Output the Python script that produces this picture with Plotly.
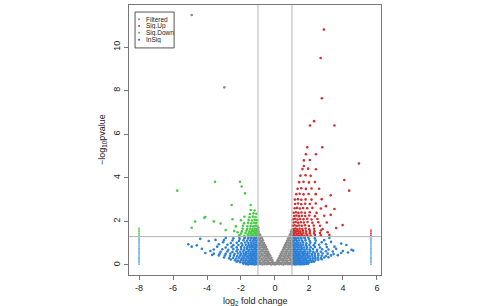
import plotly.graph_objects as go

# ---------------- data ----------------
fc_cut = [-1, 1]          # log2 fold-change cut-offs (vertical lines)
p_cut = 1.301             # -log10(0.05) (horizontal line)

x_ticks = [-8, -6, -4, -2, 0, 2, 4, 6]
x_tick_labels = ["-8", "-6", "-4", "-2", "0", "2", "4", "6"]
y_ticks = [0, 2, 4, 6, 8, 10]
y_tick_labels = ["0", "2", "4", "6", "8", "10"]

legend_labels = ["Filtered", "Sig.Up", "Sig.Down", "InSig"]

# Filtered (grey V around zero)
filtered_pts = [
    (-0.98, .03), (-0.86, .05), (-0.73, .02), (-0.61, .04), (-0.48, .03), (-0.36, .05), (-0.23, .02), (-0.11, .04),
    (0.01, .02), (0.12, .05), (0.25, .03), (0.37, .04), (0.5, .02), (0.62, .05), (0.75, .03), (0.87, .04), (0.99, .02),
    (-0.94, .12), (-0.81, .1), (-0.68, .13), (-0.55, .11), (-0.42, .12), (-0.3, .1), (-0.17, .13), (-0.07, .1),
    (0.07, .11), (0.18, .13), (0.31, .1), (0.44, .12), (0.57, .11), (0.7, .13), (0.83, .1), (0.95, .12),
    (-0.99, .22), (-0.87, .2), (-0.74, .23), (-0.61, .21), (-0.49, .22), (-0.37, .2), (-0.25, .23), (-0.15, .21),
    (0.15, .22), (0.25, .2), (0.37, .23), (0.5, .21), (0.62, .22), (0.75, .2), (0.88, .23), (0.98, .21),
    (-0.93, .32), (-0.8, .3), (-0.67, .33), (-0.54, .31), (-0.42, .32), (-0.31, .3), (-0.21, .33),
    (0.22, .31), (0.32, .33), (0.45, .3), (0.57, .32), (0.7, .31), (0.83, .33), (0.95, .3),
    (-0.98, .42), (-0.86, .4), (-0.73, .43), (-0.6, .41), (-0.48, .42), (-0.37, .4), (-0.28, .43),
    (0.28, .41), (0.38, .43), (0.5, .4), (0.63, .42), (0.76, .41), (0.89, .43), (0.99, .4),
    (-0.92, .52), (-0.79, .5), (-0.66, .53), (-0.54, .51), (-0.43, .52), (-0.34, .5),
    (0.34, .51), (0.44, .53), (0.56, .5), (0.68, .52), (0.81, .51), (0.94, .53),
    (-0.97, .62), (-0.85, .6), (-0.72, .63), (-0.6, .61), (-0.5, .62), (-0.4, .6),
    (0.4, .61), (0.5, .63), (0.62, .6), (0.74, .62), (0.87, .61), (0.97, .63),
    (-0.91, .72), (-0.79, .7), (-0.67, .73), (-0.56, .71), (-0.47, .72),
    (0.47, .71), (0.57, .73), (0.69, .7), (0.81, .72), (0.93, .71),
    (-0.98, .82), (-0.86, .8), (-0.74, .83), (-0.63, .81), (-0.53, .82),
    (0.53, .81), (0.63, .83), (0.75, .8), (0.87, .82), (0.98, .81),
    (-0.92, .92), (-0.8, .9), (-0.69, .93), (-0.59, .91), (0.59, .91), (0.69, .93), (0.8, .9), (0.92, .92),
    (-0.97, 1.02), (-0.86, 1.0), (-0.75, 1.03), (-0.65, 1.01), (0.65, 1.01), (0.76, 1.03), (0.87, 1.0), (0.97, 1.02),
    (-0.92, 1.12), (-0.81, 1.1), (-0.71, 1.13), (0.71, 1.11), (0.81, 1.13), (0.92, 1.1),
    (-0.98, 1.22), (-0.87, 1.2), (-0.77, 1.23), (0.77, 1.21), (0.87, 1.23), (0.98, 1.2),
    (-0.93, 1.32), (-0.83, 1.3), (0.83, 1.31), (0.93, 1.33),
    (-0.99, 1.42), (-0.89, 1.4), (0.89, 1.41), (0.99, 1.43),
    (-0.96, 1.52), (0.95, 1.52), (-0.99, 1.62), (0.99, 1.6), (-0.98, 1.72),
    (-4.9, 11.47), (-2.98, 8.15),
]

# Sig.Up (red)
up_pts = [
    (1.03, 1.35), (1.12, 1.37), (1.22, 1.34), (1.33, 1.36), (1.45, 1.35), (1.58, 1.38), (1.73, 1.34), (1.9, 1.36), (2.1, 1.35), (2.35, 1.37), (2.7, 1.36), (3.2, 1.38),
    (1.06, 1.45), (1.16, 1.47), (1.27, 1.44), (1.39, 1.46), (1.52, 1.45), (1.67, 1.47), (1.84, 1.44), (2.05, 1.46), (2.3, 1.45), (2.65, 1.47), (3.1, 1.5),
    (1.02, 1.55), (1.12, 1.57), (1.23, 1.54), (1.35, 1.56), (1.49, 1.55), (1.65, 1.57), (1.83, 1.54), (2.05, 1.56), (2.32, 1.55), (2.7, 1.58),
    (1.08, 1.65), (1.19, 1.67), (1.31, 1.64), (1.45, 1.66), (1.61, 1.65), (1.8, 1.67), (2.02, 1.64), (2.3, 1.66), (2.8, 1.65), (3.6, 1.7),
    (1.05, 1.8), (1.16, 1.82), (1.28, 1.79), (1.42, 1.81), (1.58, 1.8), (1.77, 1.82), (2.0, 1.79), (2.28, 1.81), (2.65, 1.8),
    (1.1, 1.95), (1.22, 1.97), (1.36, 1.94), (1.52, 1.96), (1.7, 1.95), (1.92, 1.97), (2.2, 1.94), (2.55, 1.96), (3.05, 1.95),
    (1.07, 2.1), (1.19, 2.12), (1.33, 2.09), (1.49, 2.11), (1.68, 2.1), (1.9, 2.12), (2.15, 2.09), (2.5, 2.11),
    (1.13, 2.25), (1.26, 2.27), (1.41, 2.24), (1.58, 2.26), (1.78, 2.25), (2.02, 2.27), (2.35, 2.24), (2.9, 2.26),
    (1.1, 2.4), (1.23, 2.42), (1.38, 2.39), (1.56, 2.41), (1.77, 2.4), (2.05, 2.42), (2.45, 2.39),
    (1.16, 2.6), (1.3, 2.62), (1.47, 2.59), (1.66, 2.61), (1.9, 2.6), (2.2, 2.62), (2.7, 2.59),
    (1.18, 2.8), (1.36, 2.82), (1.55, 2.79), (1.78, 2.81), (2.05, 2.8), (2.4, 2.82),
    (1.17, 3.0), (1.35, 3.02), (1.55, 2.99), (1.8, 3.01), (2.15, 3.0), (2.75, 3.02),
    (1.25, 3.25), (1.45, 3.27), (1.68, 3.24), (1.98, 3.26), (2.4, 3.25),
    (1.33, 3.5), (1.55, 3.52), (1.82, 3.49), (2.15, 3.51), (2.6, 3.5),
    (1.42, 3.8), (1.68, 3.82), (2.0, 3.79), (2.35, 3.81),
    (1.5, 4.1), (1.8, 4.12), (2.1, 4.09),
    (1.62, 4.4), (1.95, 4.42), (1.7, 4.8), (2.05, 4.82),
    (1.82, 5.08), (2.41, 5.08), (1.9, 5.4), (2.78, 5.4), (2.06, 6.4), (2.3, 6.6), (3.5, 6.4),
    (2.76, 7.65), (2.69, 9.5), (2.88, 10.8), (4.94, 4.66), (4.08, 3.9), (4.37, 3.41), (3.28, 3.2),
    (3.5, 2.57), (3.98, 1.83), (3.28, 2.3), (3.0, 2.7), (1.7, 4.54), (2.41, 4.39),
]

# Sig.Down (green)
down_pts = [
    (-1.03, 1.35), (-1.12, 1.37), (-1.22, 1.34), (-1.33, 1.36), (-1.45, 1.35), (-1.6, 1.37), (-1.8, 1.34), (-2.1, 1.36),
    (-1.06, 1.45), (-1.16, 1.47), (-1.27, 1.44), (-1.4, 1.46), (-1.55, 1.45), (-1.73, 1.47), (-2.0, 1.44),
    (-1.02, 1.55), (-1.11, 1.57), (-1.22, 1.54), (-1.35, 1.56), (-1.5, 1.55), (-1.68, 1.57), (-1.95, 1.54), (-2.4, 1.56),
    (-1.07, 1.65), (-1.18, 1.67), (-1.31, 1.64), (-1.46, 1.66), (-1.64, 1.65), (-1.9, 1.67),
    (-1.04, 1.78), (-1.15, 1.8), (-1.28, 1.77), (-1.44, 1.79), (-1.63, 1.78), (-1.88, 1.8), (-2.3, 1.77),
    (-1.1, 1.92), (-1.23, 1.94), (-1.39, 1.91), (-1.58, 1.93), (-1.82, 1.92),
    (-1.06, 2.05), (-1.19, 2.07), (-1.35, 2.04), (-1.55, 2.06), (-2.0, 2.05),
    (-1.14, 2.2), (-1.3, 2.22), (-1.5, 2.19), (-1.8, 2.21),
    (-1.1, 2.35), (-1.27, 2.37), (-1.48, 2.34), (-1.2, 2.5), (-1.42, 2.52),
    (-4.9, 1.71), (-4.16, 2.17), (-3.6, 2.0), (-4.7, 1.99), (-4.1, 2.2), (-1.43, 2.75), (-2.55, 2.75),
    (-1.76, 3.29), (-1.96, 3.6), (-2.06, 3.82), (-3.53, 3.82), (-5.75, 3.41),
    (-2.9, 1.6), (-3.2, 1.9), (-2.5, 2.1), (-2.2, 1.5),
]

# InSig (blue)
insig_pts = [
    # right cloud
    (1.02, .03), (1.1, .05), (1.18, .02), (1.26, .04), (1.34, .03), (1.42, .05), (1.5, .02), (1.6, .04), (1.7, .03), (1.82, .05), (1.95, .06),
    (1.05, .11), (1.13, .13), (1.22, .1), (1.3, .12), (1.38, .11), (1.47, .13), (1.56, .1), (1.66, .12), (1.76, .11), (1.88, .13), (2.0, .12), (2.15, .14), (2.3, .15),
    (1.03, .21), (1.11, .23), (1.2, .2), (1.28, .22), (1.37, .21), (1.45, .23), (1.54, .2), (1.63, .22), (1.73, .21), (1.84, .23), (1.96, .2), (2.08, .22), (2.22, .21), (2.38, .23), (2.55, .24), (2.75, .26),
    (1.06, .31), (1.15, .33), (1.24, .3), (1.33, .32), (1.42, .31), (1.52, .33), (1.62, .3), (1.72, .32), (1.83, .31), (1.95, .33), (2.08, .3), (2.22, .32), (2.37, .31), (2.52, .33), (2.7, .32), (2.9, .34), (3.15, .35),
    (1.02, .41), (1.1, .43), (1.19, .4), (1.28, .42), (1.37, .41), (1.47, .43), (1.57, .4), (1.68, .42), (1.8, .41), (1.92, .43), (2.05, .4), (2.2, .42), (2.36, .41), (2.55, .43), (2.75, .42), (3.0, .41), (3.3, .44), (3.7, .45),
    (1.05, .51), (1.14, .53), (1.23, .5), (1.32, .52), (1.42, .51), (1.53, .53), (1.64, .5), (1.76, .52), (1.89, .51), (2.03, .53), (2.18, .5), (2.35, .52), (2.55, .51), (2.8, .53), (3.1, .52), (3.45, .5), (3.9, .55), (4.3, .57),
    (1.03, .61), (1.12, .63), (1.21, .6), (1.31, .62), (1.41, .61), (1.52, .63), (1.64, .6), (1.77, .62), (1.92, .61), (2.08, .63), (2.26, .6), (2.46, .62), (2.7, .61), (3.0, .63), (3.4, .62), (4.0, .64), (4.6, .66),
    (1.06, .71), (1.15, .73), (1.25, .7), (1.35, .72), (1.46, .71), (1.58, .73), (1.72, .7), (1.87, .72), (2.04, .71), (2.24, .73), (2.48, .7), (2.78, .72), (3.15, .71), (3.6, .74), (4.5, .7),
    (1.02, .81), (1.11, .83), (1.21, .8), (1.32, .82), (1.44, .81), (1.57, .83), (1.72, .8), (1.89, .82), (2.1, .81), (2.35, .83), (2.65, .8), (3.05, .82), (3.5, .84), (4.2, .92),
    (1.05, .91), (1.15, .93), (1.26, .9), (1.38, .92), (1.51, .91), (1.66, .93), (1.83, .9), (2.03, .92), (2.28, .91), (2.6, .93), (3.0, .95), (3.9, .98),
    (1.03, 1.01), (1.13, 1.03), (1.24, 1.0), (1.36, 1.02), (1.5, 1.01), (1.66, 1.03), (1.85, 1.0), (2.08, 1.02), (2.36, 1.01), (2.75, 1.04), (3.3, 1.06),
    (1.06, 1.11), (1.17, 1.13), (1.29, 1.1), (1.43, 1.12), (1.6, 1.11), (1.8, 1.13), (2.05, 1.1), (2.4, 1.12), (2.9, 1.14),
    (1.02, 1.21), (1.12, 1.23), (1.24, 1.2), (1.38, 1.22), (1.55, 1.21), (1.76, 1.23), (2.0, 1.2), (2.35, 1.22), (3.2, 1.24),
    (1.08, 1.28), (1.2, 1.27), (1.34, 1.29), (1.5, 1.28), (1.7, 1.27), (1.95, 1.28),
    # left cloud
    (-1.02, .03), (-1.1, .05), (-1.19, .02), (-1.28, .04), (-1.37, .03), (-1.47, .05), (-1.58, .02), (-1.7, .04), (-1.85, .06),
    (-1.05, .11), (-1.14, .13), (-1.23, .1), (-1.32, .12), (-1.42, .11), (-1.52, .13), (-1.63, .1), (-1.75, .12), (-1.9, .11), (-2.05, .13), (-2.25, .15),
    (-1.03, .21), (-1.12, .23), (-1.21, .2), (-1.3, .22), (-1.4, .21), (-1.5, .23), (-1.61, .2), (-1.73, .22), (-1.86, .21), (-2.0, .23), (-2.16, .2), (-2.35, .22), (-2.6, .25),
    (-1.06, .31), (-1.15, .33), (-1.25, .3), (-1.35, .32), (-1.45, .31), (-1.56, .33), (-1.68, .3), (-1.81, .32), (-1.95, .31), (-2.1, .33), (-2.27, .3), (-2.46, .32), (-2.7, .31), (-3.0, .34),
    (-1.02, .41), (-1.11, .43), (-1.2, .4), (-1.3, .42), (-1.4, .41), (-1.51, .43), (-1.63, .4), (-1.76, .42), (-1.9, .41), (-2.05, .43), (-2.22, .4), (-2.42, .42), (-2.65, .41), (-2.95, .43), (-3.3, .44), (-3.7, .46),
    (-1.05, .51), (-1.14, .53), (-1.24, .5), (-1.34, .52), (-1.45, .51), (-1.57, .53), (-1.7, .5), (-1.84, .52), (-2.0, .51), (-2.18, .53), (-2.38, .5), (-2.62, .52), (-2.9, .51), (-3.25, .53), (-3.6, .52), (-4.1, .55),
    (-1.03, .61), (-1.12, .63), (-1.22, .6), (-1.33, .62), (-1.44, .61), (-1.57, .63), (-1.71, .6), (-1.87, .62), (-2.05, .61), (-2.26, .63), (-2.5, .6), (-2.8, .62), (-3.2, .61), (-3.8, .64),
    (-1.06, .71), (-1.16, .73), (-1.27, .7), (-1.38, .72), (-1.51, .71), (-1.65, .73), (-1.81, .7), (-1.99, .72), (-2.2, .71), (-2.45, .73), (-2.75, .7), (-3.1, .72), (-3.6, .71), (-4.3, .74),
    (-1.02, .81), (-1.12, .83), (-1.23, .8), (-1.35, .82), (-1.48, .81), (-1.63, .83), (-1.8, .8), (-2.0, .82), (-2.25, .81), (-2.55, .83), (-2.9, .8), (-3.4, .84),
    (-1.05, .91), (-1.15, .93), (-1.27, .9), (-1.4, .92), (-1.55, .91), (-1.72, .93), (-1.92, .9), (-2.15, .92), (-2.45, .91), (-2.8, .93), (-3.3, .95), (-4.6, .9),
    (-1.03, 1.01), (-1.14, 1.03), (-1.26, 1.0), (-1.4, 1.02), (-1.56, 1.01), (-1.75, 1.03), (-1.97, 1.0), (-2.25, 1.02), (-2.6, 1.01), (-3.05, 1.04),
    (-1.06, 1.11), (-1.18, 1.13), (-1.31, 1.1), (-1.46, 1.12), (-1.64, 1.11), (-1.86, 1.13), (-2.12, 1.1), (-2.5, 1.12), (-3.0, 1.14), (-3.9, 1.1),
    (-1.02, 1.21), (-1.13, 1.23), (-1.26, 1.2), (-1.41, 1.22), (-1.59, 1.21), (-1.8, 1.23), (-2.08, 1.2), (-2.45, 1.22), (-2.9, 1.24),
    (-1.08, 1.28), (-1.21, 1.27), (-1.36, 1.29), (-1.55, 1.28), (-1.78, 1.27), (-2.1, 1.28),
    (-5.1, .95), (-4.4, 1.2), (-3.5, 1.15), (-4.9, .84),
]

# clamped columns at the x extremes (infinite fold changes)
edge_insig_pts = [
    (-8.0, .03), (-8.0, .1), (-8.0, .17), (-8.0, .23), (-8.0, .3), (-8.0, .36), (-8.0, .42), (-8.0, .5), (-8.0, .56), (-8.0, .63),
    (-8.0, .7), (-8.0, .76), (-8.0, .83), (-8.0, .9), (-8.0, .97), (-8.0, 1.03), (-8.0, 1.1), (-8.0, 1.17), (-8.0, 1.24),
    (5.65, .03), (5.65, .1), (5.65, .17), (5.65, .23), (5.65, .3), (5.65, .36), (5.65, .42), (5.65, .5), (5.65, .56), (5.65, .63),
    (5.65, .7), (5.65, .76), (5.65, .83), (5.65, .9), (5.65, .97), (5.65, 1.03), (5.65, 1.1), (5.65, 1.17), (5.65, 1.24),
]
edge_up_pts = [(5.65, 1.36), (5.65, 1.44), (5.65, 1.52), (5.65, 1.6)]
edge_down_pts = [(-8.0, 1.36), (-8.0, 1.44), (-8.0, 1.52), (-8.0, 1.6), (-8.0, 1.68)]

# ---------------- styles ----------------
col_filtered = "#8a8a8a"
col_up = "#d03030"
col_down = "#44cc44"
col_insig = "#2a7fd6"
col_edge = "#6aaee6"
FONT = "Liberation Sans, Arial, sans-serif"

fig = go.Figure()


def add_points(pts, color, size=2.6):
    fig.add_trace(go.Scatter(
        x=[p[0] for p in pts], y=[p[1] for p in pts], mode="markers",
        marker=dict(color=color, size=size, line=dict(width=0)),
        showlegend=False, hoverinfo="skip"))


add_points(insig_pts, col_insig)
add_points(up_pts, col_up)
add_points(down_pts, col_down)
add_points(filtered_pts, col_filtered)
add_points(edge_insig_pts, col_edge, size=1.8)
add_points(edge_up_pts, col_up, size=1.8)
add_points(edge_down_pts, col_down, size=1.8)

# cut-off lines
for v in fc_cut:
    fig.add_shape(type="line", xref="x", yref="paper", x0=v, x1=v, y0=0, y1=1,
                  line=dict(color="#b4b4b4", width=1))
fig.add_shape(type="line", xref="paper", yref="y", x0=0, x1=1, y0=p_cut, y1=p_cut,
              line=dict(color="#b4b4b4", width=1))

# legend box (R style)
fig.add_shape(type="rect", xref="paper", yref="paper", x0=0.024, x1=0.179, y0=0.841, y1=0.974,
              line=dict(color="#555", width=1), fillcolor="rgba(0,0,0,0)")
leg_cols = [col_filtered, col_up, col_down, "#3050a0"]
leg_y = [0.947, 0.922, 0.897, 0.871]
for lab, c, yy in zip(legend_labels, leg_cols, leg_y):
    fig.add_shape(type="circle", xref="paper", yref="paper",
                  x0=0.040 - 0.004, x1=0.040 + 0.004, y0=yy - 0.0037, y1=yy + 0.0037,
                  line=dict(width=0), fillcolor=c)
    fig.add_annotation(x=0.063, y=yy, xref="paper", yref="paper", text=lab, showarrow=False,
                       font=dict(size=6.5, color="#222", family=FONT), xanchor="left", yanchor="middle",
                       height=6, borderpad=0)

# axis titles
fig.add_annotation(x=0.5, y=0.0, xref="paper", yref="paper", yshift=-26,
                   text="log<sub>2</sub> fold change", showarrow=False,
                   font=dict(size=9, color="#222", family=FONT), xanchor="center", yanchor="middle")
fig.add_annotation(x=0, y=0.5, xref="paper", yref="paper", xshift=-27,
                   text="−log<sub>10</sub>pvalue", showarrow=False, textangle=-90,
                   font=dict(size=9, color="#222", family=FONT), xanchor="center", yanchor="middle")

axis_common = dict(showgrid=False, zeroline=False, showline=True, mirror=True,
                   linecolor="#777", linewidth=1, ticks="outside", ticklen=4,
                   tickcolor="#777", tickfont=dict(size=9, color="#222", family=FONT))
fig.update_xaxes(range=[-8.59, 6.24], tickvals=x_ticks, ticktext=x_tick_labels, **axis_common)
fig.update_yaxes(range=[-0.46, 11.93], tickvals=y_ticks, ticktext=y_tick_labels, tickangle=-90, **axis_common)

fig.update_layout(width=478, height=306, margin=dict(l=129, r=97, t=5, b=31),
                  plot_bgcolor="white", paper_bgcolor="white",
                  font=dict(family=FONT))

fig.write_html("out.html")
